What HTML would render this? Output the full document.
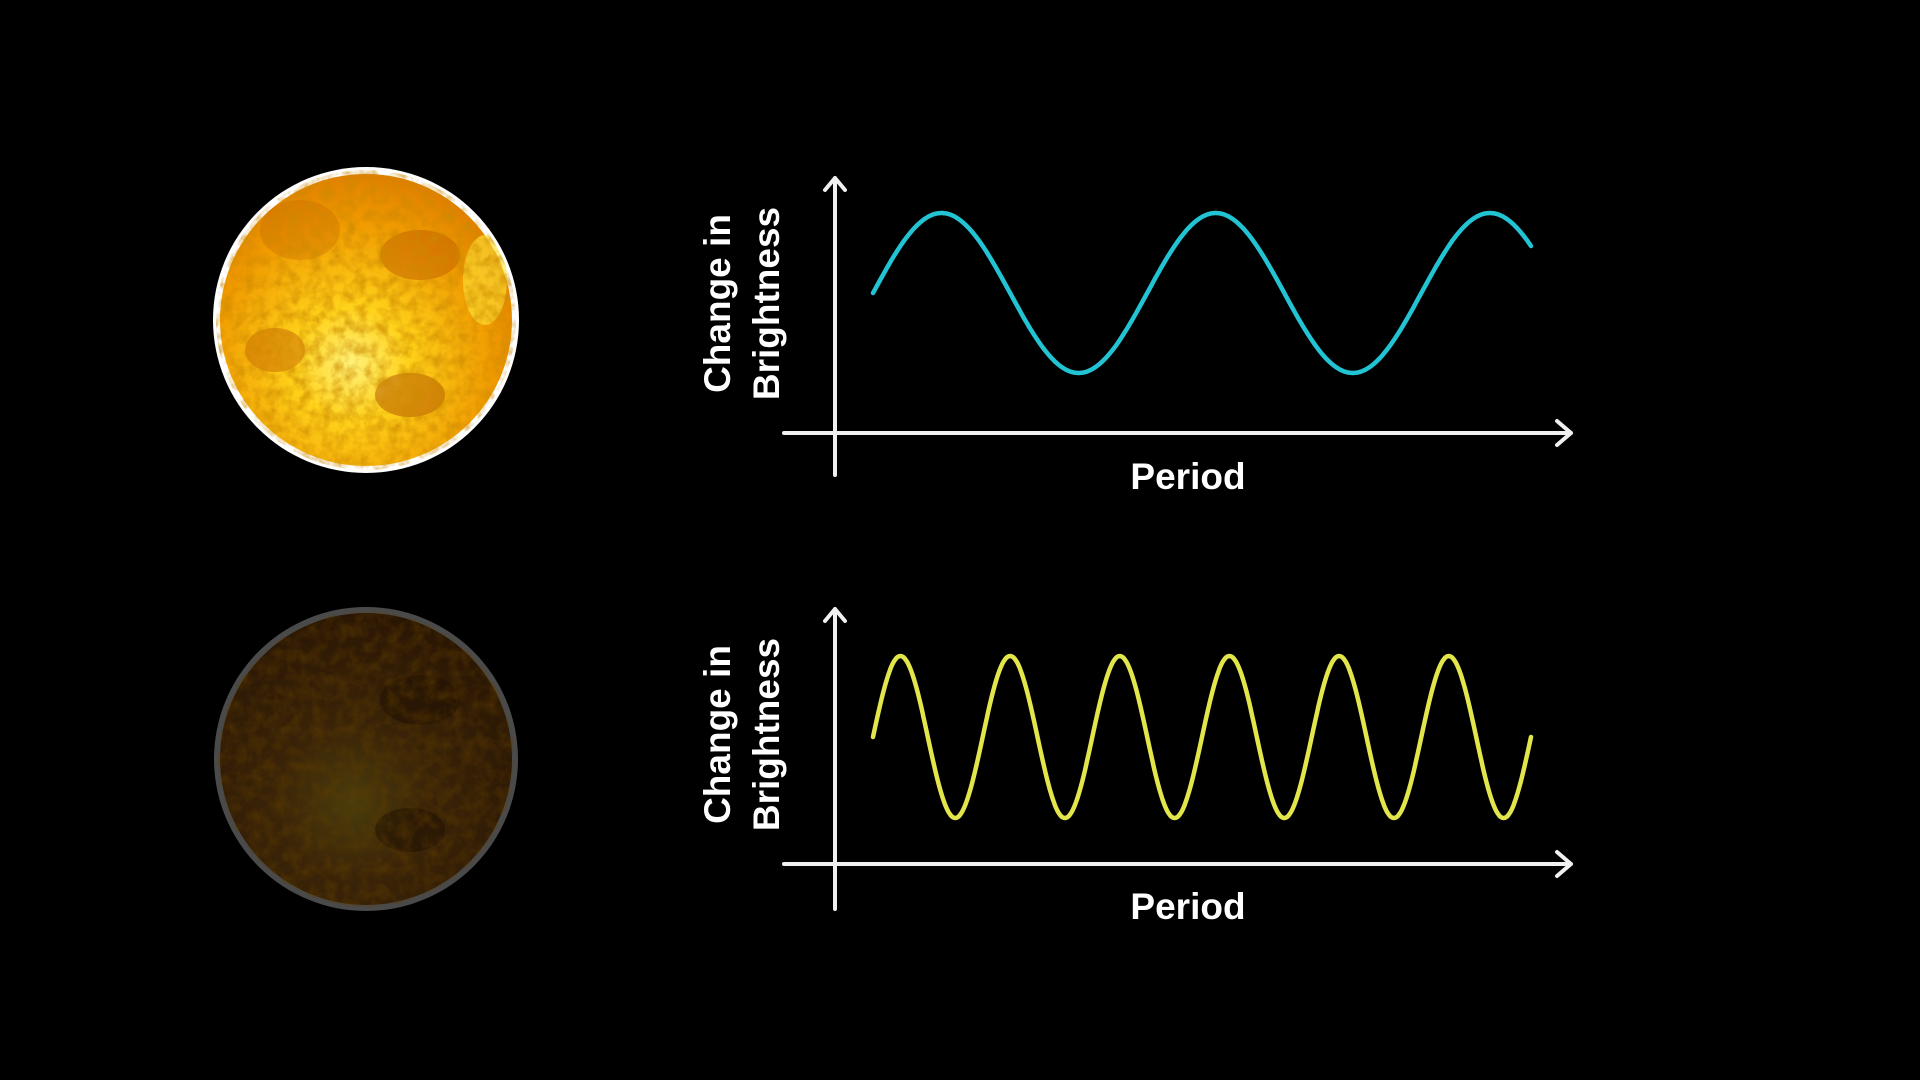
<!DOCTYPE html>
<html><head><meta charset="utf-8"><style>
html,body{margin:0;padding:0;background:#000;width:1920px;height:1080px;overflow:hidden}
svg{display:block}
text{font-family:"Liberation Sans",sans-serif;font-weight:bold;fill:#fff}
</style></head><body>
<svg id="scene" width="1920" height="1080" viewBox="0 0 1920 1080">
<defs>
<filter id="noise" x="0" y="0" width="100%" height="100%">
<feTurbulence type="fractalNoise" baseFrequency="0.09" numOctaves="3" seed="4" result="t"/>
<feColorMatrix in="t" type="matrix" values="0 0 0 0 0.6  0 0 0 0 0.25  0 0 0 0 0  0 0 0 -2.2 1.4"/>
<feComposite in2="SourceGraphic" operator="in"/>
</filter>
<filter id="noise2" x="0" y="0" width="100%" height="100%">
<feTurbulence type="fractalNoise" baseFrequency="0.08" numOctaves="3" seed="7" result="t"/>
<feColorMatrix in="t" type="matrix" values="0 0 0 0 0.12  0 0 0 0 0.05  0 0 0 0 0  0 0 0 -2 1.3"/>
<feComposite in2="SourceGraphic" operator="in"/>
</filter>
<radialGradient id="sunG" cx="0.45" cy="0.65" r="0.65">
<stop offset="0" stop-color="#fff27a"/><stop offset="0.3" stop-color="#ffd21a"/><stop offset="0.75" stop-color="#f09a00"/><stop offset="1" stop-color="#e08000"/>
</radialGradient>
<radialGradient id="dimG" cx="0.45" cy="0.65" r="0.65">
<stop offset="0" stop-color="#4a3c0c"/><stop offset="0.4" stop-color="#3a2408"/><stop offset="1" stop-color="#2a1604"/>
</radialGradient>
<clipPath id="c1"><circle cx="366" cy="320" r="150"/></clipPath>
<clipPath id="c2"><circle cx="366" cy="759" r="148"/></clipPath>
</defs>

<g>
<circle cx="366" cy="320" r="153" fill="#fff"/>
<circle cx="366" cy="320" r="146" fill="url(#sunG)"/>
<g clip-path="url(#c1)">
<ellipse cx="420" cy="255" rx="40" ry="25" fill="#c05a00" opacity="0.5"/>
<ellipse cx="275" cy="350" rx="30" ry="22" fill="#c05a00" opacity="0.45"/>
<ellipse cx="410" cy="395" rx="35" ry="22" fill="#b05000" opacity="0.5"/>
<ellipse cx="300" cy="230" rx="40" ry="30" fill="#c06000" opacity="0.3"/>
<ellipse cx="485" cy="280" rx="22" ry="45" fill="#ffe83a" opacity="0.6"/>
<rect x="210" y="170" width="320" height="310" fill="#000" filter="url(#noise)" opacity="0.65"/>
</g>
</g>

<g>
<circle cx="366" cy="759" r="152" fill="#4a4a4a"/>
<circle cx="366" cy="759" r="146" fill="url(#dimG)"/>
<g clip-path="url(#c2)">
<ellipse cx="420" cy="700" rx="40" ry="25" fill="#1e0e02" opacity="0.5"/>
<ellipse cx="410" cy="830" rx="35" ry="22" fill="#1e0e02" opacity="0.5"/>
<rect x="210" y="610" width="320" height="310" fill="#000" filter="url(#noise2)" opacity="0.5"/>
</g>
</g>

<g id="chart1"></g>
<g id="chart2"></g>
</svg>
<script>
// chart data
const cycleCounts = [2.4, 6.0];      // number of cycles shown in each light curve
const amplitudes = [1, 1];           // relative brightness amplitude
const startPhases = [0, 0];          // curves start at mean brightness, rising
const curveColors = ['#22c3d3', '#e2e64a'];
const xTitles = ['Period', 'Period'];
const yTitleLines = ['Change in', 'Brightness'];

const layouts = [
  {axX:835, yTop:178, yBot:475, axY:433, xL:784, xR:1571, cL:873, cR:1531, cMid:293, cAmp:80, titleY:489},
  {axX:835, yTop:609, yBot:909, axY:864, xL:784, xR:1571, cL:873, cR:1531, cMid:737, cAmp:81, titleY:919}
];
const NS='http://www.w3.org/2000/svg';
function mk(tag, attrs, parent){const e=document.createElementNS(NS,tag);for(const k in attrs)e.setAttribute(k,attrs[k]);parent.appendChild(e);return e;}

layouts.forEach((L,i)=>{
  const g=document.getElementById('chart'+(i+1));
  const xScale=t=>L.cL+t*(L.cR-L.cL);
  const yScale=v=>L.cMid-v*L.cAmp;
  const ax=mk('path',{d:`M${L.axX} ${L.yBot}V${L.yTop}M${L.axX-10} ${L.yTop+12}L${L.axX} ${L.yTop}L${L.axX+10} ${L.yTop+12}`,stroke:'#f0f0f0','stroke-width':4,fill:'none','stroke-linecap':'round','stroke-linejoin':'round'},g);
  
  
  const xa=mk('path',{d:`M${L.xL} ${L.axY}H${L.xR}M${L.xR-14} ${L.axY-12}L${L.xR} ${L.axY}L${L.xR-14} ${L.axY+12}`,stroke:'#f0f0f0','stroke-width':4,fill:'none','stroke-linecap':'round','stroke-linejoin':'round'},g);
  
  
  let d='';const N=600;
  for(let k=0;k<=N;k++){const t=k/N;const v=amplitudes[i]*Math.sin(2*Math.PI*cycleCounts[i]*t+startPhases[i]);d+=(k?'L':'M')+xScale(t).toFixed(1)+' '+yScale(v).toFixed(1);}
  const c=mk('path',{d:d,stroke:curveColors[i],'stroke-width':4.5,fill:'none','stroke-linecap':'round'},g);
  
  
  const xt=mk('text',{x:1188,y:L.titleY,'font-size':37,'text-anchor':'middle'},g);
  xt.textContent=xTitles[i];
  
  
  const cy=(L.yTop+L.axY)/2-2;
  const yt=mk('text',{transform:`translate(730 ${cy}) rotate(-90)`,'font-size':37,'text-anchor':'middle'},g);
  
  
  yTitleLines.forEach((ln,j)=>{const ts=mk('tspan',{x:0,y:j*49},yt);ts.textContent=ln;});
});
</script>
</body></html>
